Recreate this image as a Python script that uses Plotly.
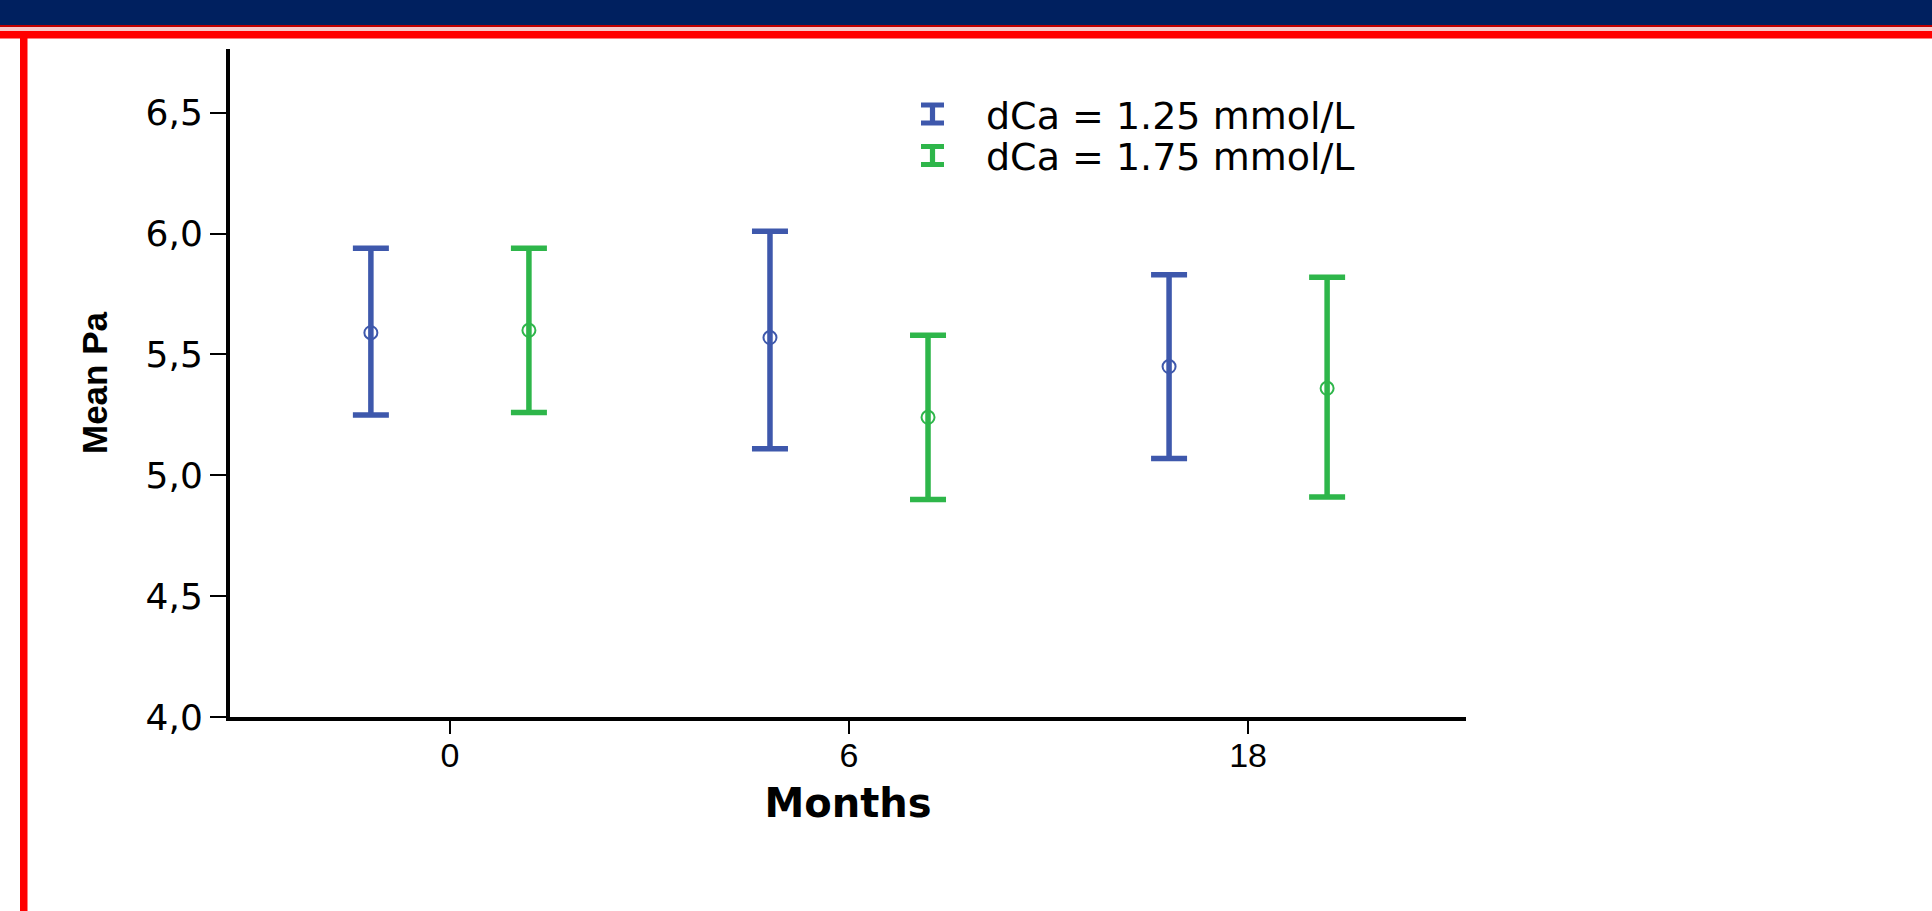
import plotly.graph_objects as go

# ---- data ----
months = ["0", "6", "18"]
series_names = ["dCa = 1.25 mmol/L", "dCa = 1.75 mmol/L"]
blue_mean = [5.59, 5.57, 5.45]
blue_upper = [5.94, 6.01, 5.83]
blue_lower = [5.25, 5.11, 5.07]
green_mean = [5.60, 5.24, 5.36]
green_upper = [5.94, 5.58, 5.82]
green_lower = [5.26, 4.90, 4.91]
y_ticks = [4.0, 4.5, 5.0, 5.5, 6.0, 6.5]

# ---- style ----
BLUE = "rgb(62,88,172)"
GREEN = "rgb(46,182,74)"
NAVY = "#00205F"
RED = "#FF0000"
W, H = 1932, 911
L, R, T, B = 230, 1466, 49, 717
OFFSET = 0.198

def px_x(p):
    return (p - L) / (R - L)

def px_y(p):
    return (B - p) / (B - T)

fig = go.Figure()

series = [
    (series_names[0], blue_mean, blue_upper, blue_lower, BLUE, -OFFSET),
    (series_names[1], green_mean, green_upper, green_lower, GREEN, OFFSET),
]
for name, mean, up, lo, col, off in series:
    xs = [i + off for i in range(len(months))]
    fig.add_trace(go.Scatter(
        x=xs, y=mean, name=name, mode="markers", showlegend=False,
        marker=dict(symbol="circle-open", size=13, color=col, line=dict(width=2, color=col)),
        error_y=dict(type="data", symmetric=False,
                     array=[u - m for u, m in zip(up, mean)],
                     arrayminus=[m - l for m, l in zip(mean, lo)],
                     color=col, thickness=5.5, width=18),
    ))

shapes = []
def rect(x0, y0, x1, y1, color):
    shapes.append(dict(type="rect", xref="paper", yref="paper",
                       x0=px_x(x0), x1=px_x(x1), y0=px_y(y1), y1=px_y(y0),
                       fillcolor=color, line=dict(width=0), layer="above"))

# slide frame
rect(0, 0, W, 25, NAVY)
rect(0, 25, W, 27, "#C00000")
rect(0, 27, W, 31, "#F8C8C8")
rect(0, 31, W, 38.5, RED)
rect(20, 31, 27.5, H, RED)

# legend glyphs (error-bar style icons) and texts
annotations = []
legend_rows = [(114, BLUE), (155.5, GREEN)]
for (cy, col), name in zip(legend_rows, series_names):
    cx = 932.5
    rect(cx - 2.6, cy - 11, cx + 2.6, cy + 11, col)
    rect(cx - 11.5, cy - 11.5, cx + 11.5, cy - 6.5, col)
    rect(cx - 11.5, cy + 6.5, cx + 11.5, cy + 11.5, col)
    annotations.append(dict(text=name, xref="paper", yref="paper",
                            x=px_x(984), y=px_y(cy + 1.5), xanchor="left", yanchor="middle",
                            showarrow=False,
                            font=dict(family="DejaVu Sans", size=38, color="black")))

fig.update_layout(
    width=W, height=H,
    margin=dict(l=L, r=W - R, t=T, b=H - B, autoexpand=False),
    paper_bgcolor="white", plot_bgcolor="white",
    separators=",.",
    showlegend=False,
    shapes=shapes,
    annotations=annotations,
    xaxis=dict(
        range=[-0.551, 2.546], tickmode="array",
        tickvals=list(range(len(months))), ticktext=months,
        showgrid=False, zeroline=False,
        showline=True, linecolor="black", linewidth=4,
        ticks="outside", ticklen=13, tickwidth=1.5, tickcolor="black",
        ticklabelstandoff=-8,
        tickfont=dict(family="Liberation Sans", size=34, color="black"),
        title=dict(text="<b>Months</b>", standoff=17,
                   font=dict(family="DejaVu Sans", size=40, color="black")),
    ),
    yaxis=dict(
        range=[4.0, 6.764], tickmode="array", tickvals=y_ticks, tickformat=".1f",
        showgrid=False, zeroline=False,
        showline=True, linecolor="black", linewidth=4,
        ticks="outside", ticklen=16, tickwidth=1.5, tickcolor="black",
        tickfont=dict(family="DejaVu Sans", size=36, color="black"),
        title=dict(text="<b>Mean Pa</b>", standoff=28,
                   font=dict(family="Liberation Sans", size=35, color="black")),
    ),
)

fig.write_html("out.html", config={"displayModeBar": False},
               post_script="document.body.style.margin='0';")
